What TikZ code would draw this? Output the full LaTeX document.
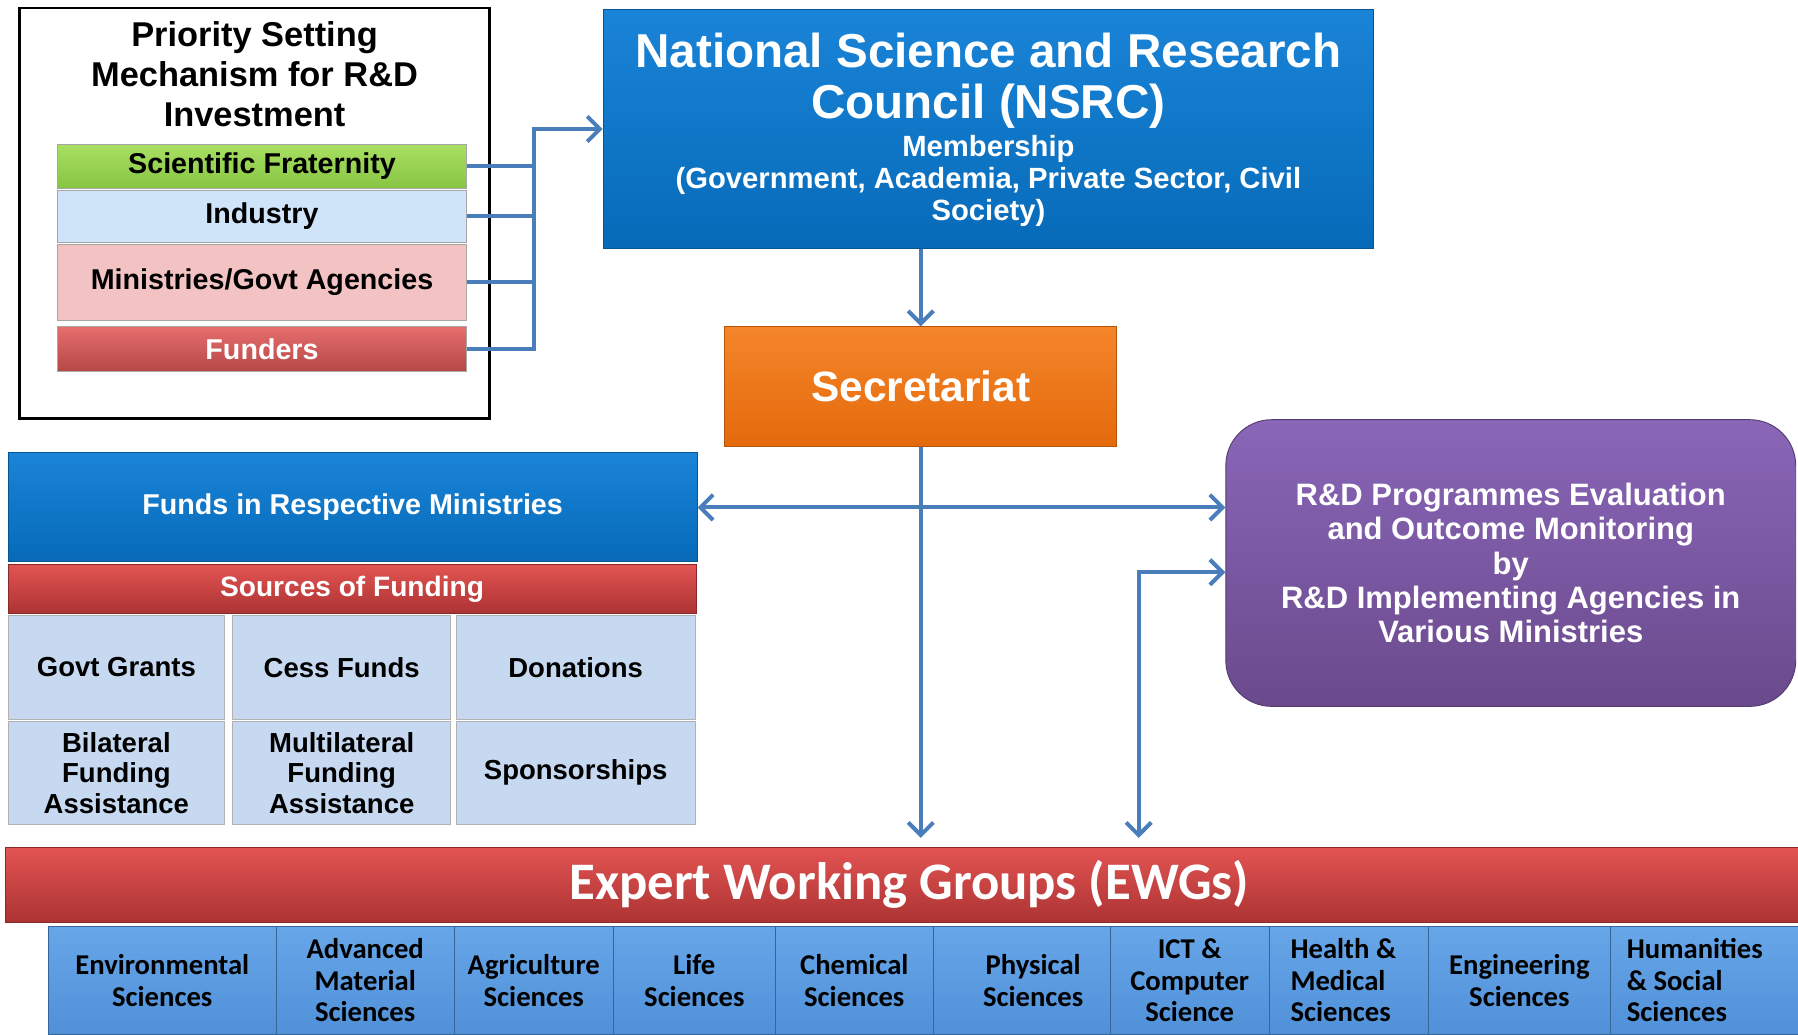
\documentclass[tikz,border=0pt]{standalone}
\usepackage{fontspec}
\setmainfont{Liberation Sans}
\newfontfamily\calibri{Carlito}
\usetikzlibrary{arrows.meta}
\definecolor{Link}{HTML}{4A7EBB}
\definecolor{BlueTop}{HTML}{1A84D8}
\definecolor{BlueBot}{HTML}{066AB8}
\definecolor{OrangeTop}{HTML}{F5852A}
\definecolor{OrangeBot}{HTML}{E46A0C}
\definecolor{PurpleTop}{HTML}{8A66B8}
\definecolor{PurpleBot}{HTML}{6A4A8C}
\definecolor{RedTop}{HTML}{E25452}
\definecolor{RedBot}{HTML}{AC3333}
\definecolor{GreenTop}{HTML}{A8E062}
\definecolor{GreenBot}{HTML}{88C443}
\definecolor{Ice}{HTML}{CFE3F9}
\definecolor{Rose}{HTML}{F3C3C3}
\definecolor{Pale}{HTML}{C6D9F0}
\definecolor{CellTop}{HTML}{67A6E8}
\definecolor{CellBot}{HTML}{5090D8}
\newcommand\setfs[2]{\fontsize{#1}{#2}\selectfont}

\begin{document}
\begin{tikzpicture}[x=1pt,y=-1pt,>={Straight Barb[length=11pt,width=22pt]},
    box/.style={inner sep=0pt,align=center,font=\bfseries},
    link/.style={draw=Link,line width=3.5pt},
    bar/.style={box,minimum width=357pt,draw=black!35,line width=.6pt,font=\bfseries\setfs{25}{28}},
    pale/.style={box,fill=Pale,draw=black!30,line width=.6pt,minimum height=90pt,font=\bfseries\setfs{24}{26.5}},
    ewgcell/.style={box,top color=CellTop,bottom color=CellBot,draw=CellBot!70!black,line width=.6pt,
      minimum height=94pt,font=\calibri\bfseries\setfs{25}{27.5}}]
  \useasboundingbox (0,0) rectangle (1568,902);

  % priority setting frame and its members
  \node[draw=black,line width=2pt,minimum width=410pt,minimum height=358pt] (prio) at (222,186) {};
  \node[box,font=\bfseries\setfs{30}{35}] (prio title) at (222,65) {Priority Setting\\Mechanism for R\&D\\Investment};
  \node[bar,top color=GreenTop,bottom color=GreenBot,minimum height=38pt] (frat) at (228.5,145) {Scientific Fraternity};
  \node[bar,fill=Ice,minimum height=45pt] (ind) at (228.5,188.5) {Industry};
  \node[bar,fill=Rose,minimum height=66pt] (min) at (228.5,246) {Ministries/Govt Agencies};
  \node[bar,top color=RedTop!85!white,bottom color=RedBot!90!white,minimum height=39pt,text=white] (fund) at (228.5,304.5) {Funders};

  % council and secretariat
  \node[box,top color=BlueTop,bottom color=BlueBot,draw=BlueBot!80!black,line width=.8pt,
    minimum width=672pt,minimum height=209pt] (nsrc) at (862,112.5) {};
  \node[box,text=white,font=\bfseries\setfs{41.5}{45}] (nsrc name) at (862,70.5) {National Science and Research\\Council (NSRC)};
  \node[box,text=white,font=\bfseries\setfs{25.5}{28}] (nsrc members) at (862,158) {Membership\\(Government, Academia, Private Sector, Civil\\Society)};
  \node[box,top color=OrangeTop,bottom color=OrangeBot,draw=OrangeBot!80!black,line width=.8pt,
    minimum width=342pt,minimum height=104pt,text=white,font=\bfseries\setfs{37}{40}] (sec) at (803,337) {Secretariat};

  % funding side
  \node[box,top color=BlueTop,bottom color=BlueBot,draw=BlueBot!80!black,line width=.8pt,
    minimum width=601pt,minimum height=95pt,text=white,font=\bfseries\setfs{25}{28}] (funds) at (307.5,442.5) {Funds in Respective Ministries};
  \node[box,top color=RedTop,bottom color=RedBot,draw=RedBot!80!black,line width=.6pt,
    minimum width=600pt,minimum height=43pt,text=white,font=\bfseries\setfs{24.5}{27}] (src) at (307,513.5) {Sources of Funding};
  \node[pale,minimum width=189pt] (grants) at (101.5,582) {Govt Grants};
  \node[pale,minimum width=190pt] (cess) at (298,582) {Cess Funds};
  \node[pale,minimum width=208pt] (don) at (502,582) {Donations};
  \node[pale,minimum width=189pt] (bilat) at (101.5,674) {Bilateral\\Funding\\Assistance};
  \node[pale,minimum width=190pt] (multi) at (298,674) {Multilateral\\Funding\\Assistance};
  \node[pale,minimum width=208pt] (spons) at (502,674) {Sponsorships};

  % evaluation
  \node[box,rounded corners=40pt,top color=PurpleTop,bottom color=PurpleBot,draw=PurpleBot!80!black,line width=.8pt,
    minimum width=497pt,minimum height=250pt,text=white,font=\bfseries\setfs{27}{30}] (eval) at (1317.5,491)
    {R\&D Programmes Evaluation\\and Outcome Monitoring\\by\\R\&D Implementing Agencies in\\Various Ministries};

  % expert working groups (bar runs off the right edge)
  \node[box,top color=RedTop,bottom color=RedBot,draw=RedBot!80!black,line width=.6pt,
    minimum width=1576pt,minimum height=65pt,text=white,font=\calibri\bfseries\setfs{46}{50}] (ewg) at (793,771.5) {Expert Working Groups (EWGs)};
  \node[ewgcell,minimum width=199pt] (env) at (141.5,855) {Environmental\\Sciences};
  \node[ewgcell,minimum width=155pt] (adv) at (318.5,855) {Advanced\\Material\\Sciences};
  \node[ewgcell,minimum width=139pt] (agri) at (465.5,855) {Agriculture\\Sciences};
  \node[ewgcell,minimum width=141pt] (life) at (605.5,855) {Life\\Sciences};
  \node[ewgcell,minimum width=138pt] (chem) at (745,855) {Chemical\\Sciences};
  \node[ewgcell,minimum width=154pt] (phys) at (891,855) {\hspace*{20pt}Physical\\\hspace*{20pt}Sciences};
  \node[ewgcell,minimum width=139pt] (ict) at (1037.5,855) {ICT \&\\Computer\\Science};
  \node[ewgcell,minimum width=139pt,align=left] (health) at (1176.5,855) {Health \&\hspace*{10pt}\\Medical\\Sciences};
  \node[ewgcell,minimum width=158pt] (eng) at (1325,855) {Engineering\\Sciences};
  \node[ewgcell,minimum width=164pt,align=left] (hum) at (1486,855) {Humanities\hspace*{16pt}\\\& Social\\Sciences};

  % connectors
  \coordinate (bus) at (466,0);
  \foreach \b in {frat,ind,min}
    \draw[link] (\b.east) -- (\b.east -| bus);
  \draw[link,->] (fund.east) -- (fund.east -| bus) -- (bus |- nsrc.west) -- (nsrc.west);
  \draw[link,->] (sec.north |- nsrc.south) -- (sec.north);
  \draw[link,<->] (funds.east) -- (funds.east -| eval.west);
  \draw[link,->,shorten >=8pt] (sec.south) -- (sec.south |- ewg.north);
  \coordinate (tap) at (993,499);
  \draw[link,<->,shorten <=8pt] (tap |- ewg.north) -- (tap) -- (tap -| eval.west);
\end{tikzpicture}
\end{document}
